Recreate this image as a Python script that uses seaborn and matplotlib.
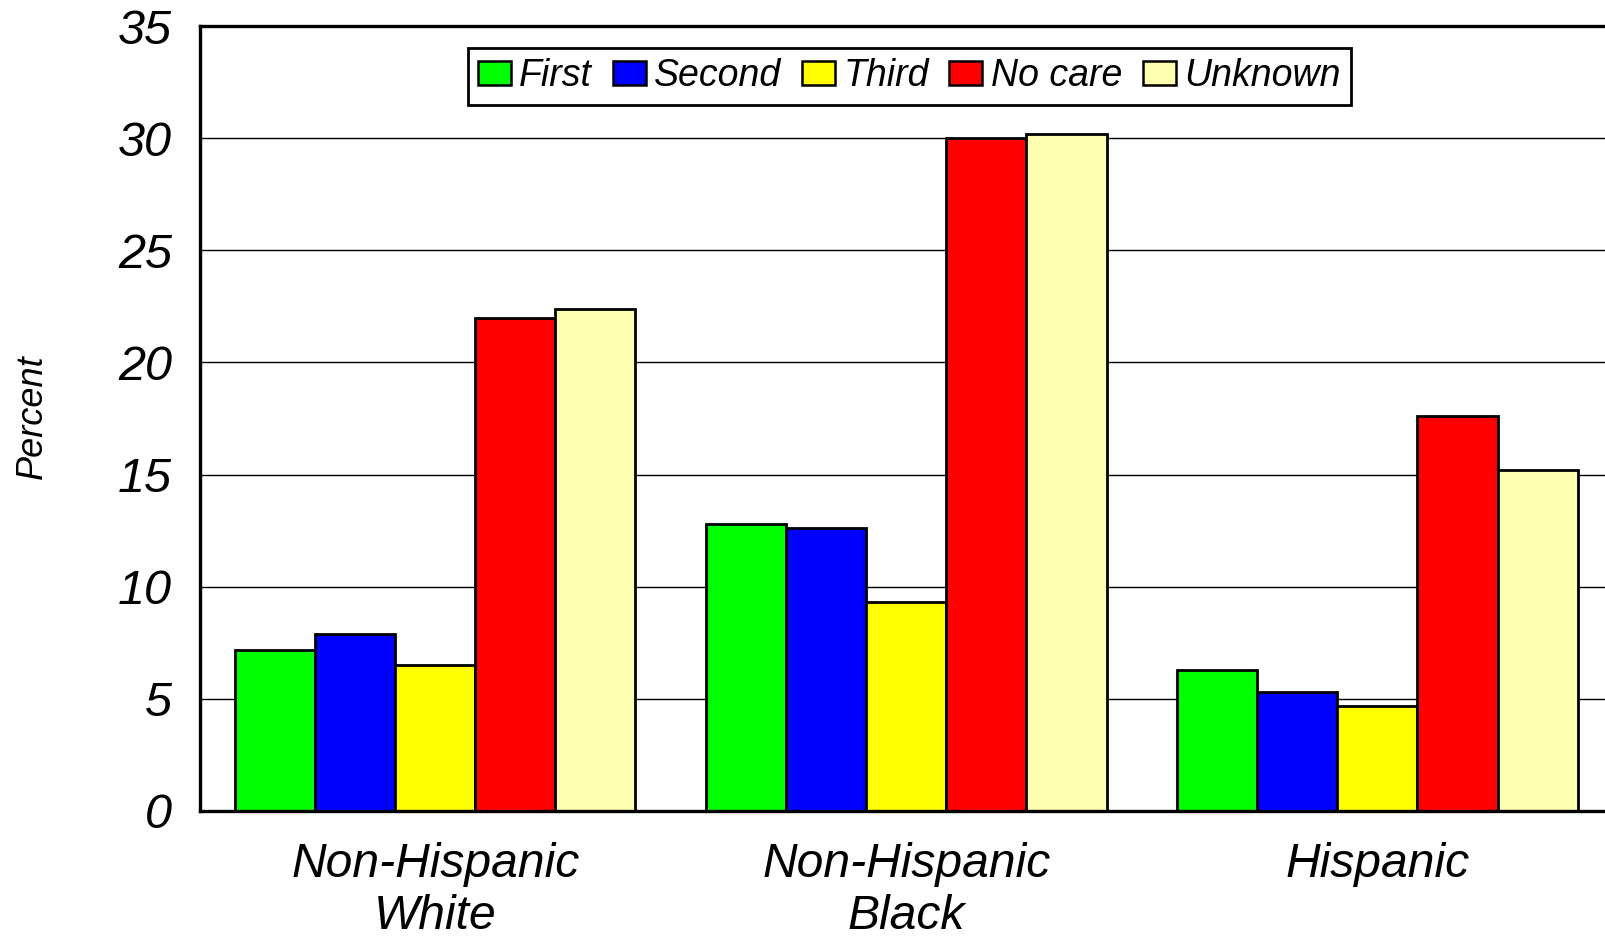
import numpy as np
import pandas as pd
import seaborn as sns
import matplotlib.pyplot as plt
from matplotlib.patches import Patch

groups = ["Non-Hispanic\nWhite", "Non-Hispanic\nBlack", "Hispanic"]
trimesters = ["First", "Second", "Third", "No care", "Unknown"]
first = [7.2, 12.8, 6.3]
second = [7.9, 12.6, 5.3]
third = [6.5, 9.3, 4.7]
no_care = [22.0, 30.0, 17.6]
unknown = [22.4, 30.2, 15.2]
colors = ["#00FF00", "#0000FF", "#FFFF00", "#FF0000", "#FFFFB0"]

rows = []
for name, vals in zip(trimesters, [first, second, third, no_care, unknown]):
    for g, v in zip(groups, vals):
        rows.append({"group": g, "care": name, "percent": v})
df = pd.DataFrame(rows)

sns.set_style("white")
plt.rcParams["font.family"] = ["Liberation Sans", "DejaVu Sans"]
plt.rcParams["font.style"] = "italic"
plt.rcParams["text.color"] = "black"
plt.rcParams["xtick.color"] = "black"
plt.rcParams["ytick.color"] = "black"

fig = plt.figure(figsize=(16.05, 9.36), dpi=100)
W, H = 1605, 936
left, right, top, bottom = 199.6, 1613, 26, 811
ax = fig.add_axes([left / W, 1 - bottom / H, (right - left) / W, (bottom - top) / H])

sns.barplot(data=df, x="group", y="percent", hue="care", order=groups,
            hue_order=trimesters, palette=colors, width=0.85, gap=0,
            edgecolor="black", linewidth=2.0, saturation=1, legend=False, ax=ax)

ax.set_xlim(-0.5, 2.5)
ax.set_ylim(0, 35)
ax.set_yticks(np.arange(0, 36, 5))
ax.set_axisbelow(True)
ax.yaxis.grid(True, color="black", linewidth=1.0)
ax.xaxis.grid(False)
for side in ["left", "bottom", "top"]:
    ax.spines[side].set_visible(True)
    ax.spines[side].set_color("black")
    ax.spines[side].set_linewidth(2.4)
ax.spines["right"].set_visible(False)

ax.tick_params(axis="y", length=0, pad=20, labelsize=35, colors="black")
ax.tick_params(axis="x", length=0, pad=22, labelsize=34.6, colors="black")
for lab in ax.get_xticklabels():
    lab.set_linespacing(1.2)
ax.set_xlabel("")
ax.set_ylabel("")
fig.text(32 / W, 1 - 417 / H, "Percent", rotation=90, ha="center", va="center",
         fontsize=26, color="black")

handles = [Patch(facecolor=c, edgecolor="black", linewidth=1.8) for c in colors]
leg = ax.legend(handles, trimesters, loc="upper center", bbox_to_anchor=(0.502, 1 - 22 / 785),
                ncol=5, fontsize=27, frameon=True, fancybox=False, framealpha=1,
                borderaxespad=0, borderpad=0.28, handlelength=0.88, handleheight=0.6,
                handletextpad=0.22, columnspacing=0.55)
leg.get_frame().set_edgecolor("black")
leg.get_frame().set_linewidth(2)

fig.savefig("out.png", dpi=100)
